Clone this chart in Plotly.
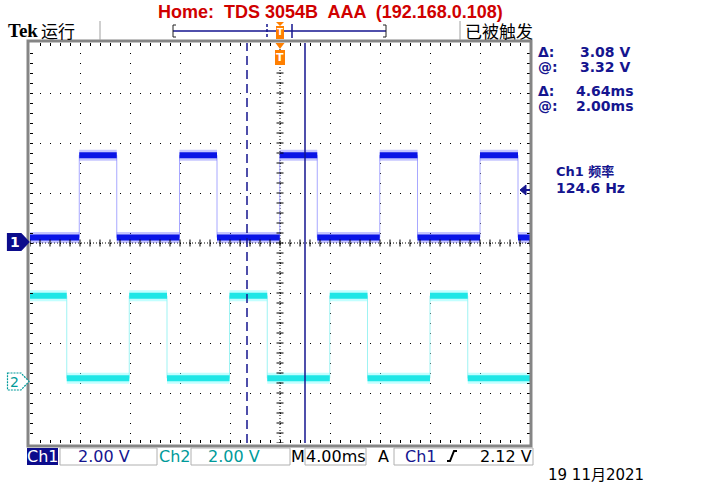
import plotly.graph_objects as go

# ---------------- data ----------------
ch1_rise_ms = [-16.06, -8.04, -0.02, 7.98, 16.0]
ch1_fall_ms = [-13.06, -5.04, 2.98, 11.0, 19.04]
ch1_high_v = 3.51
ch1_low_v = 0.22
ch2_rise_ms = [-12.06, -4.04, 3.98, 12.0]
ch2_fall_ms = [-17.06, -9.04, -1.02, 7.0, 15.02]
ch2_high_v = 3.43
ch2_low_v = 0.13
volts_per_div = 2.0
ms_per_div = 4.0
ch1_offset_div = 0.0
ch2_offset_div = -2.77
cursor1_ms = -2.64
cursor2_ms = 2.0
trig_level_v = 2.12
t_start, t_end = -20.0, 20.0

NAVY = "#15158f"
TEAL = "#009a9a"
ORANGE = "#ff7f00"

W, H = 704, 484
L, R, T, B = 30, 530, 43, 443  # plot area in pixels


def px(x):
    return (x - L) / (R - L)


def py(y):
    return (B - y) / (B - T)


def step(rises, falls, hi, lo, offset):
    edges = sorted([(t, 1) for t in rises] + [(t, 0) for t in falls])
    state = 0 if edges[0][1] == 1 else 1
    lvl = lambda s: (hi if s else lo) / volts_per_div + offset
    xs, ys = [t_start], [lvl(state)]
    segs_x, segs_y = [], []
    seg_start = t_start
    for t, s in edges:
        xs += [t, t]
        ys += [lvl(state), lvl(s)]
        segs_x += [seg_start, t, None]
        segs_y += [lvl(state), lvl(state), None]
        state = s
        seg_start = t
    xs.append(t_end)
    ys.append(lvl(state))
    segs_x += [seg_start, t_end]
    segs_y += [lvl(state), lvl(state)]
    return xs, ys, segs_x, segs_y


fig = go.Figure()

c1x, c1y, s1x, s1y = step(ch1_rise_ms, ch1_fall_ms, ch1_high_v, ch1_low_v, ch1_offset_div)
c2x, c2y, s2x, s2y = step(ch2_rise_ms, ch2_fall_ms, ch2_high_v, ch2_low_v, ch2_offset_div)

# channel 2 (cyan)
fig.add_trace(go.Scatter(x=c2x, y=c2y, mode="lines", line=dict(color="#9ff3f3", width=1), hoverinfo="skip"))
fig.add_trace(go.Scatter(x=s2x, y=s2y, mode="lines", line=dict(color="rgba(120,255,255,0.45)", width=11), hoverinfo="skip"))
fig.add_trace(go.Scatter(x=s2x, y=s2y, mode="lines", line=dict(color="#1fe6e6", width=6), hoverinfo="skip"))
# channel 1 (blue)
fig.add_trace(go.Scatter(x=c1x, y=c1y, mode="lines", line=dict(color="#a8a8ff", width=1), hoverinfo="skip"))
fig.add_trace(go.Scatter(x=s1x, y=s1y, mode="lines", line=dict(color="rgba(90,90,255,0.35)", width=11), hoverinfo="skip"))
fig.add_trace(go.Scatter(x=s1x, y=s1y, mode="lines", line=dict(color="#0a14e6", width=6), hoverinfo="skip"))

# center crosshair tick marks
n_x = int(round((t_end - t_start) / (ms_per_div / 5)))
tx = [t_start + i * ms_per_div / 5 for i in range(n_x + 1)]
fig.add_trace(go.Scatter(x=tx, y=[0] * len(tx), mode="markers",
                         marker=dict(symbol="line-ns", size=5, line=dict(color="black", width=1)),
                         hoverinfo="skip"))
ty = [-4 + i * 0.2 for i in range(41)]
fig.add_trace(go.Scatter(x=[0] * len(ty), y=ty, mode="markers",
                         marker=dict(symbol="line-ew", size=5, line=dict(color="black", width=1)),
                         hoverinfo="skip"))

shapes = []
# crosshair dense dotted lines
shapes.append(dict(type="line", xref="x", yref="y", x0=t_start, x1=t_end, y0=0, y1=0,
                   line=dict(color="black", width=1, dash="1px,2px"), layer="below"))
shapes.append(dict(type="line", xref="x", yref="y", x0=0, x1=0, y0=-4, y1=4,
                   line=dict(color="black", width=1, dash="1px,2px"), layer="below"))
# cursors
shapes.append(dict(type="line", xref="x", yref="y", x0=cursor1_ms, x1=cursor1_ms, y0=-4, y1=4,
                   line=dict(color=NAVY, width=1.5, dash="9px,5px")))
shapes.append(dict(type="line", xref="x", yref="y", x0=cursor2_ms, x1=cursor2_ms, y0=-4, y1=4,
                   line=dict(color=NAVY, width=1.5)))
# gray graticule frame
shapes.append(dict(type="rect", xref="paper", yref="paper", x0=px(28), x1=px(531), y0=py(446), y1=py(41),
                   line=dict(color="#858585", width=3)))


# channel markers
def chan_marker(yc, fill, border, dash):
    path = "M {a},{b} L {c},{b} L {d},{m} L {c},{e} L {a},{e} Z".format(
        a=px(7.5), c=px(21), d=px(29), b=py(yc - 8.5), e=py(yc + 8.5), m=py(yc))
    return dict(type="path", xref="paper", yref="paper", path=path, fillcolor=fill,
                line=dict(color=border, width=1.2, dash=dash))


y1_px = B - (ch1_offset_div + 4) * 50
y2_px = B - (ch2_offset_div + 4) * 50
shapes.append(chan_marker(y1_px - 1, "#0c0c8c", "#0c0c8c", "solid"))
shapes.append(chan_marker(y2_px, "white", TEAL, "2px,1px"))

# trigger level arrow (right edge)
trig_div = trig_level_v / volts_per_div + ch1_offset_div
shapes.append(dict(type="path", xref="x", yref="y",
                   path="M 19.2,{m} L 19.68,{a} L 19.68,{b} Z".format(m=trig_div, a=trig_div + 0.1, b=trig_div - 0.1),
                   fillcolor=NAVY, line=dict(color=NAVY, width=1)))
shapes.append(dict(type="line", xref="x", yref="y", x0=19.6, x1=20, y0=trig_div, y1=trig_div,
                   line=dict(color=NAVY, width=2)))

# trigger position marker (orange T)
xt = 280
shapes.append(dict(type="path", xref="paper", yref="paper",
                   path="M {a},{t} L {b},{t} L {c},{u} Z".format(a=px(275.5), b=px(284.5), c=px(xt), t=py(43), u=py(49)),
                   fillcolor=ORANGE, line=dict(color=ORANGE, width=0)))
shapes.append(dict(type="rect", xref="paper", yref="paper", x0=px(275), x1=px(285), y0=py(65), y1=py(50),
                   fillcolor=ORANGE, line=dict(color=ORANGE, width=0)))

# record bar at top
shapes.append(dict(type="line", xref="paper", yref="paper", x0=px(173), x1=px(386), y0=py(31), y1=py(31),
                   line=dict(color=NAVY, width=1.5)))
for xb, d in [(173, 3), (386, -3)]:
    shapes.append(dict(type="path", xref="paper", yref="paper",
                       path="M {a},{t} L {b},{t} L {b},{u} L {a},{u}".format(a=px(xb + d), b=px(xb), t=py(25), u=py(37)),
                       line=dict(color="#202020", width=1)))
shapes.append(dict(type="line", xref="paper", yref="paper", x0=px(267), x1=px(267), y0=py(24), y1=py(38),
                   line=dict(color=NAVY, width=1.5, dash="3px,2px")))
shapes.append(dict(type="line", xref="paper", yref="paper", x0=px(292), x1=px(292), y0=py(24), y1=py(38),
                   line=dict(color=NAVY, width=1.5)))
shapes.append(dict(type="path", xref="paper", yref="paper",
                   path="M {a},{t} L {b},{t} L {c},{u} Z".format(a=px(276), b=px(284), c=px(280), t=py(22), u=py(26)),
                   fillcolor=ORANGE, line=dict(color=ORANGE, width=0)))
shapes.append(dict(type="rect", xref="paper", yref="paper", x0=px(276), x1=px(284), y0=py(39), y1=py(26),
                   fillcolor=ORANGE, line=dict(color=ORANGE, width=0)))
# separators
for xs_ in (100, 460):
    shapes.append(dict(type="line", xref="paper", yref="paper", x0=px(xs_), x1=px(xs_), y0=py(40), y1=py(21),
                       line=dict(color="#a0a0a0", width=1)))

# bottom status bar boxes
shapes.append(dict(type="rect", xref="paper", yref="paper", x0=px(27), x1=px(58), y0=py(465), y1=py(448),
                   fillcolor="#0c0c8c", line=dict(color="#0c0c8c", width=0)))
for a, b in [(60, 157), (191, 290), (305, 366), (394, 533)]:
    shapes.append(dict(type="rect", xref="paper", yref="paper", x0=px(a), x1=px(b), y0=py(465), y1=py(448),
                       fillcolor="white", line=dict(color="#b0b0b0", width=1)))
# rising-edge symbol
shapes.append(dict(type="path", xref="paper", yref="paper",
                   path="M {a},{lo} L {b},{lo} L {c},{hi} L {d},{hi}".format(
                       a=px(447), b=px(450), c=px(454), d=px(457), lo=py(461), hi=py(451)),
                   line=dict(color="black", width=2)))

ann = []


def text(x, y, s, color="black", size=14, family="DejaVu Sans", anchor="left", bold=False):
    ann.append(dict(x=px(x), y=py(y), xref="paper", yref="paper", text=s, showarrow=False,
                    xanchor=anchor, yanchor="middle", borderpad=0,
                    font=dict(color=color, size=size, family=family, weight="bold" if bold else "normal")))


text(330, 12, "Home:  TDS 3054B  AAA  (192.168.0.108)", color="#d00000", size=18,
     family="Liberation Sans", anchor="center", bold=True)
text(7, 31, "Tek", size=19, family="Liberation Serif", bold=True)
text(40, 31, "运行", size=17, family="Noto Sans CJK SC")
text(464, 31, "已被触发", size=17, family="Noto Sans CJK SC")

# right readouts
for y_, lab, val, xr in [(51.5, "Δ:", "3.08 V", 631), (67, "@:", "3.32 V", 631),
                         (91, "Δ:", "4.64ms", 634), (106.5, "@:", "2.00ms", 634)]:
    text(537, y_, lab, color=NAVY, size=14, bold=True)
    text(xr, y_, val, color=NAVY, size=14, anchor="right", bold=True)
text(555, 171, "Ch1 频率", color=NAVY, size=13, family="DejaVu Sans, Noto Sans CJK SC", bold=True)
text(555, 188, "124.6 Hz", color=NAVY, size=14, bold=True)

# channel marker labels
text(14.5, y1_px - 1, "1", color="white", size=14, anchor="center", bold=True)
text(14.5, y2_px, "2", color=TEAL, size=14, anchor="center")
text(280, 57.5, "T", color="white", size=11, anchor="center", bold=True)
text(280, 32.5, "T", color="white", size=9, anchor="center", bold=True)

# bottom bar text
text(42.5, 456.5, "Ch1", color="white", size=16, anchor="center")
text(104, 456.5, "2.00 V", color=NAVY, size=16, anchor="center")
text(174.5, 456.5, "Ch2", color=TEAL, size=16, anchor="center")
text(234, 456.5, "2.00 V", color=TEAL, size=16, anchor="center")
text(298, 456.5, "M", size=16, anchor="center")
text(336, 456.5, "4.00ms", size=16, anchor="center")
text(383.5, 456.5, "A", size=16, anchor="center")
text(421, 456.5, "Ch1", color=NAVY, size=16, anchor="center")
text(533, 456.5, "2.12 V", size=16, anchor="right")
text(547, 475, "19 11月2021", size=15, family="DejaVu Sans, Noto Sans CJK SC")

axis_common = dict(showgrid=True, gridcolor="black", gridwidth=1, griddash="1px,9px",
                   zeroline=False, showline=False, showticklabels=False,
                   ticks="inside", ticklen=3, tickcolor="black", mirror="ticks", fixedrange=True)

fig.update_layout(
    width=W, height=H,
    margin=dict(l=L, r=W - R, t=T, b=H - B, pad=0),
    paper_bgcolor="white", plot_bgcolor="white",
    showlegend=False,
    xaxis=dict(range=[t_start, t_end], dtick=ms_per_div, tick0=0,
               minor=dict(dtick=ms_per_div / 5, ticks="inside", ticklen=3, tickcolor="black", showgrid=False),
               **axis_common),
    yaxis=dict(range=[-4, 4], dtick=1, tick0=0,
               minor=dict(dtick=0.2, ticks="inside", ticklen=3, tickcolor="black", showgrid=False),
               **axis_common),
    shapes=shapes,
    annotations=ann,
)

fig.write_html("out.html")
